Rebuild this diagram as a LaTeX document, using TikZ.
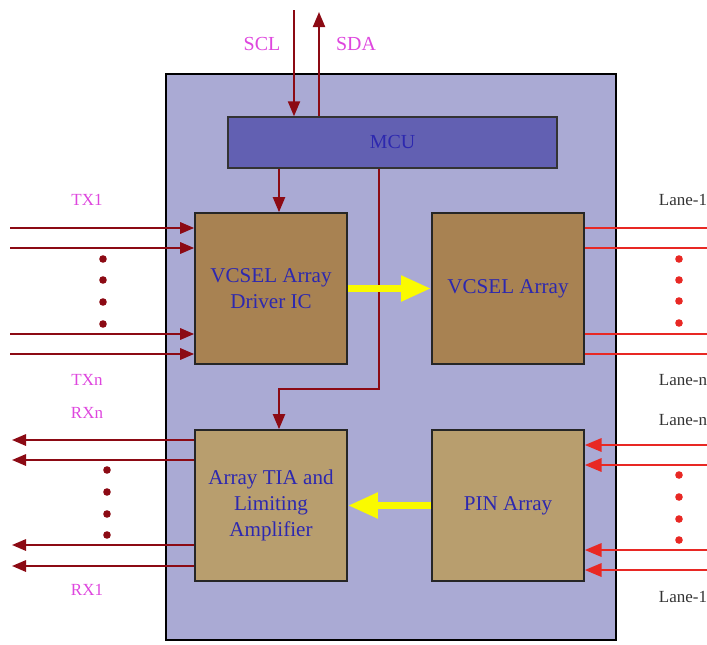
\documentclass[tikz,border=0pt]{standalone}
\usepackage{fontspec}
\setmainfont{Liberation Serif}
\usetikzlibrary{arrows.meta,positioning}
\definecolor{modlilac}{RGB}{170,170,212}
\definecolor{mcuviolet}{RGB}{98,96,178}
\definecolor{drvbrown}{RGB}{168,130,82}
\definecolor{rxtan}{RGB}{184,158,110}
\definecolor{wirered}{RGB}{140,10,20}
\definecolor{lanered}{RGB}{232,40,36}
\definecolor{labmagenta}{RGB}{222,70,222}
\definecolor{textblue}{RGB}{45,40,175}
\definecolor{flowyellow}{RGB}{250,250,0}
\tikzset{
  module/.style={draw=black, line width=2.4pt, fill=modlilac,
                 minimum width=13.5cm, minimum height=16.98cm},
  mcubox/.style={draw=black!80, line width=1.2pt, fill=mcuviolet,
                 minimum width=9.87cm, minimum height=1.53cm,
                 text=textblue, font=\fontsize{17}{20}\selectfont},
  block/.style={draw=black!85, line width=1.4pt, fill=drvbrown,
                minimum width=4.56cm, minimum height=4.53cm,
                align=center, text=textblue,
                font=\fontsize{18}{22}\selectfont},
  rxblock/.style={block, fill=rxtan},
  ctrl/.style={wirered, line width=1.8pt,
               -{Triangle[length=0.45cm,width=0.36cm]}},
  txwire/.style={wirered, line width=1.8pt,
                 -{Triangle[length=0.42cm,width=0.34cm]}},
  lane/.style={lanered, line width=1.8pt},
  lanein/.style={lane, -{Triangle[length=0.5cm,width=0.4cm]}},
  optic/.style={flowyellow, line width=6.5pt,
                -{Triangle[length=0.9cm,width=0.72cm]}},
  siglab/.style={text=labmagenta, font=\fontsize{17}{20}\selectfont},
  chlab/.style={text=labmagenta, font=\fontsize{14.5}{17}\selectfont},
  lanelab/.style={text=black!80, font=\fontsize{14.5}{17}\selectfont},
}
\begin{document}
\begin{tikzpicture}[x=0.03cm,y=-0.03cm]
  \useasboundingbox (0,0) rectangle (707,644);

  % module outline and blocks
  \node[module] (mod) at (391,357) {};
  \node[mcubox] (mcu) at (392.5,142.5) {MCU};
  \node[block] (drv) at (271,288.5) {VCSEL Array\\Driver IC};
  \node[block] (vcsel) at (508,288.5) {VCSEL Array};
  \node[rxblock] (tia) at (271,505.5) {Array TIA and\\Limiting\\Amplifier};
  \node[rxblock] (pin) at (508,505.5) {PIN Array};

  % I2C bus
  \coordinate (scl) at (294,10);
  \coordinate (sda) at (319,12);
  \draw[ctrl] (scl) -- (scl |- mcu.north);
  \draw[ctrl, {Triangle[length=0.45cm,width=0.36cm]}-] (sda) -- (sda |- mcu.north);
  \node[siglab] (scllab) at (262,44) {SCL};
  \node[siglab] (sdalab) at (356,44) {SDA};

  % control lines from the MCU
  \coordinate (ctl) at (279,0);
  \coordinate (bend) at (379,389);
  \draw[ctrl] (mcu.south -| ctl) -- (drv.north -| ctl);
  \draw[ctrl] (mcu.south -| bend) -- (bend) -| (tia.north -| ctl);

  % optical paths
  \draw[optic] (drv.east) -- (vcsel.west);
  \draw[optic] (pin.west) -- (tia.east);

  % electrical TX inputs
  \foreach \y in {228,248,334,354}{
    \coordinate (tx\y) at (10,\y);
    \draw[txwire] (tx\y) -- (tx\y -| drv.west);
  }
  \foreach \y in {259,280,302,324}
    \fill[wirered] (103,\y) circle (3.8);
  \node[chlab] (tx1lab) at (87,200) {TX1};
  \node[chlab] (txnlab) at (87,380) {TXn};

  % electrical RX outputs
  \foreach \y in {440,460,545,566}{
    \coordinate (rx\y) at (12,\y);
    \draw[txwire] (rx\y -| tia.west) -- (rx\y);
  }
  \foreach \y in {470,492,514,535}
    \fill[wirered] (107,\y) circle (3.8);
  \node[chlab] (rxnlab) at (87,413) {RXn};
  \node[chlab] (rx1lab) at (87,590) {RX1};

  % optical lanes out
  \foreach \y in {228,248,334,354}{
    \coordinate (lo\y) at (707,\y);
    \draw[lane] (lo\y -| vcsel.east) -- (lo\y);
  }
  \foreach \y in {259,280,301,323}
    \fill[lanered] (679,\y) circle (3.8);
  \node[lanelab] (lo1lab) at (683,200) {Lane-1};
  \node[lanelab] (lonlab) at (683,380) {Lane-n};

  % optical lanes in
  \foreach \y in {445,465,550,570}{
    \coordinate (li\y) at (707,\y);
    \draw[lanein] (li\y) -- (li\y -| pin.east);
  }
  \foreach \y in {475,497,519,540}
    \fill[lanered] (679,\y) circle (3.8);
  \node[lanelab] (linlab) at (683,420) {Lane-n};
  \node[lanelab] (li1lab) at (683,597) {Lane-1};
\end{tikzpicture}
\end{document}
